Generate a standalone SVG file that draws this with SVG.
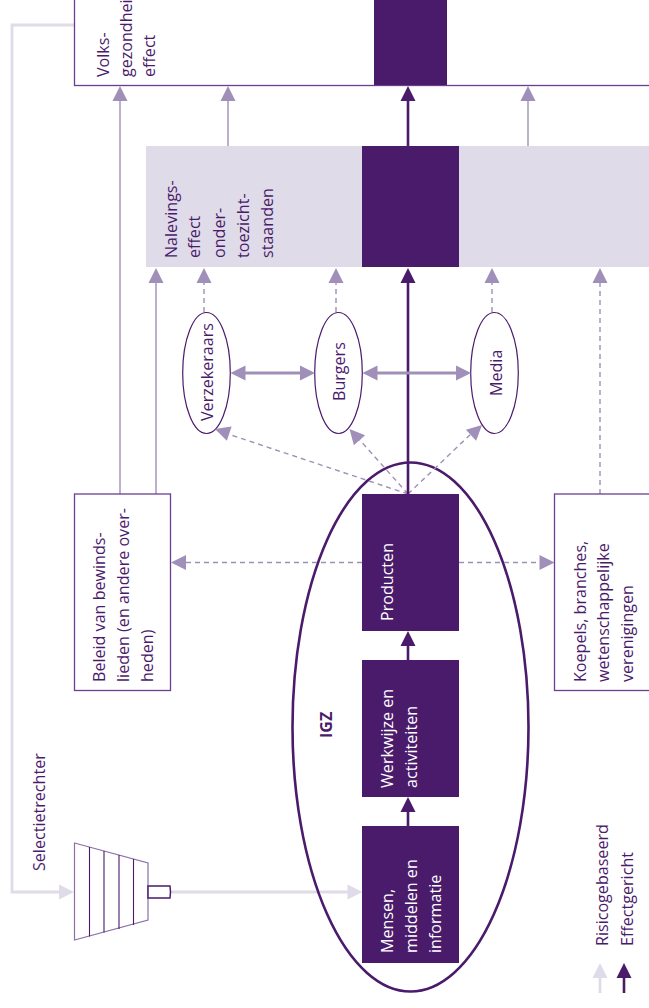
<svg xmlns="http://www.w3.org/2000/svg" width="649" height="1008" viewBox="0 0 649 1008">
<style>
text{font-family:"Open Sans","Noto Sans","DejaVu Sans",sans-serif;font-size:16.100px;fill:#4a1a6b}
text.w{fill:#fff}
text.b{font-weight:700}
.box{fill:#fff;stroke:#6b3f90;stroke-width:1.300}
.dark{fill:#4a1a6b}
.band{fill:#dfdbe8}
.oval{fill:#fff;stroke:#4a1a6b;stroke-width:1.200}
.c{fill:none}
.m{stroke:#a08fb8;stroke-width:1.400}
.md{stroke:#a08fb8;stroke-width:1.400;stroke-dasharray:5 4}
.d{stroke:#4a1a6b;stroke-width:2.600}
.l{stroke:#dfdbe8;stroke-width:2.800}
.mt{stroke:#a08fb8;stroke-width:3}
.hm{fill:#a08fb8}.hd{fill:#4a1a6b}.hl{fill:#dfdbe8}
</style>
<defs>
<path id="au" d="M0 0L7.500 15L-7.500 15Z"/>
</defs>
<g id="connectors-light">
<path class="c l" d="M75 25H12V892H62"/>
<path class="c l" d="M171 892H350"/>
<use href="#au" class="hl" transform="translate(74 892) rotate(90)"/>
<use href="#au" class="hl" transform="translate(362.500 892) rotate(90)"/>
</g>
<g id="node-volksgezondheid">
<rect class="box" x="74.500" y="-10" width="600" height="95.500"/>
<rect class="dark" x="374" y="-10" width="73" height="95"/>
<text transform="translate(108.500 77) rotate(-90)">Volks-</text>
<text transform="translate(132 77) rotate(-90)">gezondheid</text>
<text transform="translate(155 77) rotate(-90)">effect</text>
</g>
<g id="node-naleving">
<rect class="band" x="146" y="146" width="510" height="121"/>
<rect class="dark" x="362" y="146" width="97" height="121"/>
<text transform="translate(176.500 258) rotate(-90)">Nalevings-</text>
<text transform="translate(200 258) rotate(-90)">effect</text>
<text transform="translate(225 258) rotate(-90)">onder-</text>
<text transform="translate(249 258) rotate(-90)">toezicht-</text>
<text transform="translate(273 258) rotate(-90)">staanden</text>
</g>
<g id="node-igz">
<ellipse cx="410.500" cy="727" rx="118" ry="264.500" fill="none" stroke="#4a1a6b" stroke-width="2.600"/>
<text class="b" transform="translate(332 738) rotate(-90)">IGZ</text>
</g>
<g id="node-verzekeraars">
<ellipse class="oval" cx="206.500" cy="373" rx="23.800" ry="60.500"/>
<text transform="translate(213 421) rotate(-90)">Verzekeraars</text>
</g>
<g id="node-burgers">
<ellipse class="oval" cx="338.500" cy="373" rx="23.800" ry="60.500"/>
<text transform="translate(345 401) rotate(-90)">Burgers</text>
</g>
<g id="node-media">
<ellipse class="oval" cx="494.500" cy="373" rx="23.800" ry="60.500"/>
<text transform="translate(501.500 396) rotate(-90)">Media</text>
</g>
<g id="connectors">
<path class="c m" d="M120 494V100M228 146V100M528 146V100M156 494V282"/>
<path class="c md" d="M204 312V282M336 312V282M492 312V282M600 494V282"/>
<path class="c md" d="M362 562.500H186M459 562.500H540"/>
<path class="c md" d="M408 494L228 434M408 494L358 438M408 494L472 433"/>
<path class="c d" d="M408 146V100M408 494V282M408 660V645M408 826V811"/>
<path class="c mt" d="M245 373H301M377 373H456"/>
<use href="#au" class="hm" transform="translate(120 86)"/>
<use href="#au" class="hm" transform="translate(228 86)"/>
<use href="#au" class="hm" transform="translate(528 86)"/>
<use href="#au" class="hd" transform="translate(408 86)"/>
<use href="#au" class="hm" transform="translate(156 268)"/>
<use href="#au" class="hm" transform="translate(204 268)"/>
<use href="#au" class="hm" transform="translate(336 268)"/>
<use href="#au" class="hd" transform="translate(408 268)"/>
<use href="#au" class="hm" transform="translate(492 268)"/>
<use href="#au" class="hm" transform="translate(600 268)"/>
<use href="#au" class="hm" transform="translate(171 562.500) rotate(-90)"/>
<use href="#au" class="hm" transform="translate(554.500 562.500) rotate(90)"/>
<use href="#au" class="hm" transform="translate(215 429) rotate(-71.600)"/>
<use href="#au" class="hm" transform="translate(349.500 429) rotate(-41.700)"/>
<use href="#au" class="hm" transform="translate(482 425) rotate(47)"/>
<use href="#au" class="hm" transform="translate(230.500 373) rotate(-90)"/>
<use href="#au" class="hm" transform="translate(315 373) rotate(90)"/>
<use href="#au" class="hm" transform="translate(362.500 373) rotate(-90)"/>
<use href="#au" class="hm" transform="translate(471 373) rotate(90)"/>
<use href="#au" class="hd" transform="translate(408 631)"/>
<use href="#au" class="hd" transform="translate(408 797)"/>
</g>
<g id="node-producten">
<rect class="dark" x="362" y="494" width="97" height="137"/>
<text class="w" transform="translate(393 621) rotate(-90)">Producten</text>
</g>
<g id="node-werkwijze">
<rect class="dark" x="362" y="660" width="97" height="137"/>
<text class="w" transform="translate(393 788) rotate(-90)">Werkwijze en</text>
<text class="w" transform="translate(417 788) rotate(-90)">activiteiten</text>
</g>
<g id="node-mensen">
<rect class="dark" x="362" y="826" width="97" height="137"/>
<text class="w" transform="translate(393 953) rotate(-90)">Mensen,</text>
<text class="w" transform="translate(417 953) rotate(-90)">middelen en</text>
<text class="w" transform="translate(441 953) rotate(-90)">informatie</text>
</g>
<g id="node-beleid">
<rect class="box" x="74.500" y="494" width="96" height="196.500"/>
<text transform="translate(105 682) rotate(-90)">Beleid van bewinds-</text>
<text transform="translate(129 682) rotate(-90)">lieden (en andere over-</text>
<text transform="translate(153 682) rotate(-90)">heden)</text>
</g>
<g id="node-koepels">
<rect class="box" x="554.500" y="494" width="120" height="196.500"/>
<text transform="translate(586 682) rotate(-90)">Koepels, branches,</text>
<text transform="translate(609 682) rotate(-90)">wetenschappelijke</text>
<text transform="translate(633 682) rotate(-90)">verenigingen</text>
</g>
<g id="node-selectietrechter">
<path d="M74.500 843L148 863V920L74.500 940Z" fill="#fff" stroke="#8d6fa8" stroke-width="1.200"/>
<path d="M89.500 847V936.500M104 851V932.500M119 855V929M133.500 859V925" fill="none" stroke="#4a1a6b" stroke-width="1.100"/>
<path d="M148 886H170Q171 892 170 898H148Z" fill="#fff" stroke="#4a1a6b" stroke-width="1.500"/>
<text transform="translate(44.500 871) rotate(-90)">Selectietrechter</text>
</g>
<g id="legend">
<path class="c l" d="M600 993V978"/>
<use href="#au" class="hl" transform="translate(600 963)"/>
<path class="c d" d="M624 993V978"/>
<use href="#au" class="hd" transform="translate(624 963)"/>
<text transform="translate(608 946) rotate(-90)">Risicogebaseerd</text>
<text transform="translate(633 946) rotate(-90)">Effectgericht</text>
</g>
</svg>
